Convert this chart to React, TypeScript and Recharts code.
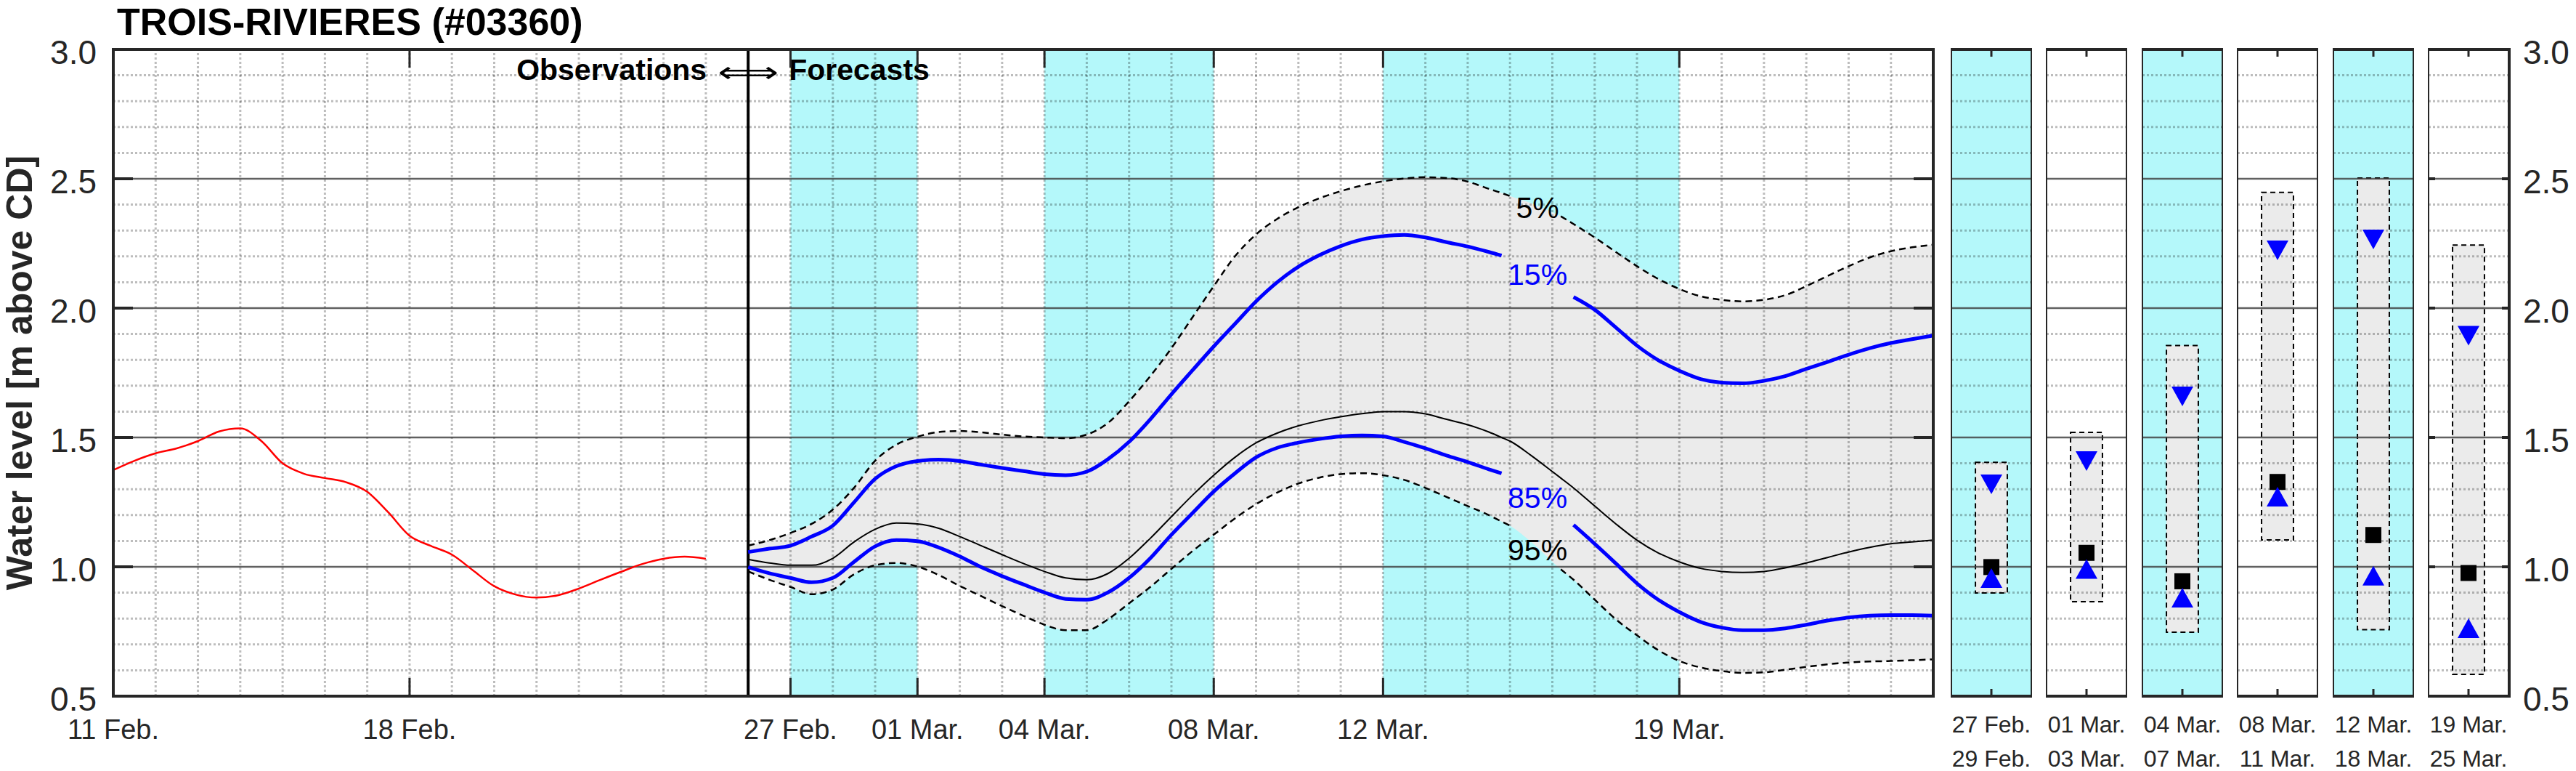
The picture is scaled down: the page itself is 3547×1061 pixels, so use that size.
import React from 'react';
import {
  ComposedChart,
  Line,
  Area,
  Scatter,
  XAxis,
  YAxis,
  ReferenceArea,
  ReferenceLine,
  ReferenceDot,
} from 'recharts';

// ---- data (day 0 = 11 Feb., levels in m above CD) ----
const obsDays = [0, 0.5, 1, 1.5, 2, 2.5, 3, 3.5, 4, 4.5, 5, 5.5, 6, 6.5, 7, 7.5, 8, 8.5, 9, 9.5, 10, 10.5, 11, 11.5, 12, 12.5, 13, 13.5, 14];
const obsLevels = [1.374, 1.41, 1.439, 1.458, 1.486, 1.523, 1.535, 1.486, 1.4, 1.36, 1.343, 1.327, 1.29, 1.21, 1.12, 1.081, 1.047, 0.986, 0.925, 0.893, 0.881, 0.89, 0.916, 0.949, 0.981, 1.011, 1.031, 1.039, 1.031];

const fcDays = [15, 15.5, 16, 16.5, 17, 17.5, 18, 18.5, 19, 19.5, 20, 20.5, 21, 21.5, 22, 22.5, 23, 23.5, 24, 24.5, 25, 25.5, 26, 26.5, 27, 27.5, 28, 28.5, 29, 29.5, 30, 30.5, 31, 31.5, 32, 32.5, 32.8, 33, 33.5, 34, 34.2, 34.5, 35, 35.5, 36, 36.5, 37, 37.5, 38, 38.5, 39, 39.5, 40, 40.5, 41, 41.5, 42, 42.5, 43];
const fc5 = [1.082, 1.103, 1.131, 1.166, 1.221, 1.305, 1.41, 1.472, 1.503, 1.521, 1.525, 1.52, 1.511, 1.504, 1.5, 1.497, 1.511, 1.556, 1.64, 1.737, 1.845, 1.965, 2.085, 2.2, 2.285, 2.345, 2.39, 2.425, 2.452, 2.474, 2.49, 2.501, 2.506, 2.503, 2.489, 2.461, 2.445, 2.433, 2.405, 2.37, 2.355, 2.325, 2.273, 2.217, 2.162, 2.113, 2.074, 2.046, 2.032, 2.026, 2.032, 2.05, 2.085, 2.124, 2.162, 2.196, 2.22, 2.235, 2.245];
const fc15 = [1.057, 1.07, 1.082, 1.117, 1.159, 1.249, 1.34, 1.389, 1.409, 1.414, 1.409, 1.395, 1.382, 1.37, 1.358, 1.354, 1.368, 1.416, 1.483, 1.57, 1.667, 1.76, 1.852, 1.939, 2.026, 2.1, 2.16, 2.205, 2.24, 2.265, 2.278, 2.283, 2.273, 2.255, 2.238, 2.217, 2.203, 2.19, 2.15, 2.1, 2.08, 2.043, 1.994, 1.925, 1.855, 1.799, 1.758, 1.726, 1.712, 1.709, 1.719, 1.737, 1.765, 1.792, 1.82, 1.845, 1.865, 1.88, 1.894];
const fc50 = [1.029, 1.015, 1.006, 1.006, 1.033, 1.096, 1.145, 1.169, 1.166, 1.149, 1.117, 1.082, 1.047, 1.013, 0.982, 0.957, 0.95, 0.974, 1.033, 1.11, 1.194, 1.277, 1.354, 1.423, 1.479, 1.517, 1.545, 1.565, 1.58, 1.592, 1.6, 1.6, 1.591, 1.57, 1.549, 1.521, 1.5, 1.486, 1.43, 1.368, 1.343, 1.305, 1.235, 1.166, 1.103, 1.054, 1.019, 0.994, 0.982, 0.978, 0.982, 0.996, 1.015, 1.036, 1.057, 1.075, 1.089, 1.096, 1.103];
const fc85 = [0.999, 0.975, 0.957, 0.94, 0.957, 1.019, 1.079, 1.103, 1.099, 1.075, 1.04, 0.999, 0.964, 0.932, 0.901, 0.876, 0.873, 0.901, 0.957, 1.033, 1.124, 1.208, 1.291, 1.361, 1.423, 1.46, 1.48, 1.494, 1.504, 1.508, 1.504, 1.483, 1.458, 1.43, 1.405, 1.377, 1.361, 1.34, 1.28, 1.22, 1.2, 1.162, 1.089, 1.013, 0.936, 0.873, 0.825, 0.787, 0.765, 0.755, 0.755, 0.762, 0.776, 0.792, 0.804, 0.811, 0.813, 0.813, 0.811];
const fc95 = [0.982, 0.95, 0.922, 0.894, 0.912, 0.971, 1.006, 1.015, 1.001, 0.968, 0.926, 0.887, 0.848, 0.811, 0.776, 0.755, 0.755, 0.797, 0.859, 0.922, 0.992, 1.061, 1.124, 1.187, 1.242, 1.287, 1.322, 1.345, 1.358, 1.362, 1.354, 1.336, 1.305, 1.27, 1.235, 1.2, 1.175, 1.159, 1.096, 1.02, 0.99, 0.95, 0.873, 0.797, 0.735, 0.678, 0.636, 0.611, 0.597, 0.59, 0.592, 0.602, 0.613, 0.623, 0.63, 0.634, 0.636, 0.639, 0.642];

const dateTickDays = [0, 7, 16, 19, 22, 26, 30, 37];
const dateTickLabels = ['11 Feb.', '18 Feb.', '27 Feb.', '01 Mar.', '04 Mar.', '08 Mar.', '12 Mar.', '19 Mar.'];
const levelTicks = [0.5, 1, 1.5, 2, 2.5, 3];
const shadedPeriods = [[16, 19], [22, 26], [30, 37]];
const forecastStart = 15;

const pctLabels = [
  { text: '5%', day: 33.65, level: 2.391, color: '#000000' },
  { text: '15%', day: 33.65, level: 2.131, color: '#0000ff' },
  { text: '85%', day: 33.65, level: 1.27, color: '#0000ff' },
  { text: '95%', day: 33.65, level: 1.068, color: '#000000' },
];

// period summaries (small panels on the right)
const panelStart = ['27 Feb.', '01 Mar.', '04 Mar.', '08 Mar.', '12 Mar.', '19 Mar.'];
const panelEnd = ['29 Feb.', '03 Mar.', '07 Mar.', '11 Mar.', '18 Mar.', '25 Mar.'];
const panelHigh = [1.404, 1.52, 1.855, 2.447, 2.503, 2.244];
const panelUpper = [1.32, 1.41, 1.66, 2.225, 2.267, 1.895];
const panelMedian = [0.999, 1.054, 0.944, 1.328, 1.123, 0.976];
const panelLower = [0.955, 0.99, 0.879, 1.27, 0.964, 0.761];
const panelLow = [0.899, 0.865, 0.747, 1.104, 0.757, 0.584];
const panelShaded = [true, false, true, false, true, false];

// ---- layout / style ----
const FONT = '"Liberation Sans", Arial, Helvetica, sans-serif';
const INK = '#262626';
const CYAN = '#b4f8fa';
const BAND = '#ebebeb';
const CHART_H = 1061;
const PLOT_TOP = 68;
const PLOT_BOTTOM = 958;
const MAIN_LEFT = 156;
const MAIN_RIGHT = 2662;
const PANEL_W = 112;
const PANEL_LEFT0 = 2686;
const PANEL_PITCH = 131.4;
const RIGHT_AXIS_W = 92;

const dashedGap = [33.2, 34.1];
const blueGap = [32.9, 34.4];
const gapped = (d: number, v: number, gap: number[]) => (d > gap[0] && d < gap[1] ? null : v);

const mainRows = [
  ...obsDays.map((d, i) => ({ x: d, obs: obsLevels[i] })),
  ...fcDays.map((d, i) => ({
    x: d,
    band: [fc95[i], fc5[i]],
    p5: gapped(d, fc5[i], dashedGap),
    p15: gapped(d, fc15[i], blueGap),
    p50: fc50[i],
    p85: gapped(d, fc85[i], blueGap),
    p95: gapped(d, fc95[i], dashedGap),
  })),
];

const dayLines = Array.from({ length: 42 }, (_, i) => i + 1);
const majorLevels = [1, 1.5, 2, 2.5];
const minorLevels = Array.from({ length: 24 }, (_, i) => Math.round((0.6 + i * 0.1) * 10) / 10).filter(
  (v) => !majorLevels.includes(v)
);

const dotted = { stroke: '#000', strokeOpacity: 0.26, strokeWidth: 3, strokeDasharray: '3 3' };
const major = { stroke: '#3a3a3a', strokeOpacity: 0.8, strokeWidth: 2.5 };

const horizontalGrid = () => [
  ...minorLevels.map((v) => <ReferenceLine key={`mn${v}`} y={v} {...dotted} zIndex={30} />),
  ...majorLevels.map((v) => <ReferenceLine key={`mj${v}`} y={v} {...major} zIndex={31} />),
];

const MainXTick = (props: any) => {
  const { x, payload } = props;
  const i = dateTickDays.indexOf(payload.value);
  const inner = x > MAIN_LEFT + 2;
  return (
    <g>
      {inner && <line x1={x} x2={x} y1={PLOT_BOTTOM} y2={PLOT_BOTTOM - 25} stroke={INK} strokeWidth={3} />}
      {inner && <line x1={x} x2={x} y1={PLOT_TOP} y2={PLOT_TOP + 25} stroke={INK} strokeWidth={3} />}
      <text x={x} y={1017} textAnchor="middle" fontSize={38} fill={INK} fontFamily={FONT}>
        {dateTickLabels[i]}
      </text>
    </g>
  );
};

const MainYTick = (props: any) => {
  const { y, payload } = props;
  const v = payload.value;
  const inner = v > 0.5 && v < 3;
  return (
    <g>
      {inner && <line x1={MAIN_LEFT} x2={MAIN_LEFT + 27} y1={y} y2={y} stroke={INK} strokeWidth={4} />}
      {inner && <line x1={MAIN_RIGHT - 27} x2={MAIN_RIGHT} y1={y} y2={y} stroke={INK} strokeWidth={4} />}
      <text x={133} y={y + 20} textAnchor="end" fontSize={46} fill={INK} fontFamily={FONT}>
        {v.toFixed(1)}
      </text>
    </g>
  );
};

const DividerLabel = (props: any) => {
  const x = props?.viewBox?.x ?? 1029;
  return (
    <g fontFamily={FONT} fill="#000">
      <text x={x - 57} y={110} textAnchor="end" fontSize={41} fontWeight="bold">Observations</text>
      <text x={x - 42} y={113} fontSize={40} textLength={84} lengthAdjust="spacingAndGlyphs" fontFamily="DejaVu Sans">⟺</text>
      <text x={x + 56} y={110} fontSize={41} fontWeight="bold">Forecasts</text>
    </g>
  );
};

const YLabel = () => (
  <text
    transform={`translate(44, ${(PLOT_TOP + PLOT_BOTTOM) / 2}) rotate(-90)`}
    textAnchor="middle"
    fontSize={50}
    fontWeight="bold"
    fill={INK}
    fontFamily={FONT}
  >
    Water level [m above CD]
  </text>
);

function MainChart() {
  return (
    <ComposedChart
      width={MAIN_RIGHT + 38}
      height={CHART_H}
      data={mainRows}
      margin={{ top: PLOT_TOP, right: 38, bottom: 0, left: 0 }}
    >
      <XAxis
        dataKey="x"
        type="number"
        domain={[0, 43]}
        ticks={dateTickDays}
        interval={0}
        height={CHART_H - PLOT_BOTTOM}
        axisLine={false}
        tickLine={false}
        tickSize={0}
        tickMargin={0}
        tick={(p: any) => <MainXTick {...p} />}
      />
      <YAxis
        type="number"
        domain={[0.5, 3]}
        ticks={levelTicks}
        interval={0}
        width={MAIN_LEFT}
        axisLine={false}
        tickLine={false}
        tickSize={0}
        tickMargin={0}
        tick={(p: any) => <MainYTick {...p} />}
        label={{ content: () => <YLabel /> }}
      />
      {shadedPeriods.map(([a, b]) => (
        <ReferenceArea key={`c${a}`} x1={a} x2={b} y1={0.5} y2={3} fill={CYAN} fillOpacity={1} stroke="none" zIndex={10} />
      ))}
      <Area
        dataKey="band"
        type="monotone"
        fill={BAND}
        fillOpacity={1}
        stroke="none"
        isAnimationActive={false}
        dot={false}
        activeDot={false}
        zIndex={20}
      />
      {dayLines.map((d) => (
        <ReferenceLine key={`d${d}`} x={d} {...dotted} zIndex={30} />
      ))}
      {horizontalGrid()}
      <ReferenceLine
        x={forecastStart}
        stroke="#000"
        strokeWidth={4}
        zIndex={35}
        label={{ content: (p: any) => <DividerLabel {...p} /> }}
      />
      <Line dataKey="obs" type="monotone" stroke="#ff0000" strokeWidth={2.5} dot={false} activeDot={false} isAnimationActive={false} zIndex={40} />
      <Line dataKey="p5" type="monotone" stroke="#000" strokeWidth={2.5} strokeDasharray="9 6" dot={false} activeDot={false} isAnimationActive={false} zIndex={40} />
      <Line dataKey="p95" type="monotone" stroke="#000" strokeWidth={2.5} strokeDasharray="9 6" dot={false} activeDot={false} isAnimationActive={false} zIndex={40} />
      <Line dataKey="p50" type="monotone" stroke="#000" strokeWidth={2} dot={false} activeDot={false} isAnimationActive={false} zIndex={40} />
      <Line dataKey="p15" type="monotone" stroke="#0000ff" strokeWidth={5} dot={false} activeDot={false} isAnimationActive={false} zIndex={41} />
      <Line dataKey="p85" type="monotone" stroke="#0000ff" strokeWidth={5} dot={false} activeDot={false} isAnimationActive={false} zIndex={41} />
      {pctLabels.map((l) => (
        <ReferenceDot
          key={l.text}
          x={l.day}
          y={l.level}
          r={0}
          zIndex={45}
          shape={(p: any) => (
            <text x={p.cx} y={p.cy + 15} textAnchor="middle" fontSize={41} fill={l.color} fontFamily={FONT}>
              {l.text}
            </text>
          )}
        />
      ))}
      <ReferenceArea x1={0} x2={43} y1={0.5} y2={3} fill="none" stroke={INK} strokeWidth={4} zIndex={50} />
    </ComposedChart>
  );
}

const DownTriangle = (p: any) => (
  <polygon points={`${p.cx - 15},${p.cy - 13} ${p.cx + 15},${p.cy - 13} ${p.cx},${p.cy + 14}`} fill="#0000ff" />
);
const UpTriangle = (p: any) => (
  <polygon points={`${p.cx - 15},${p.cy + 13} ${p.cx + 15},${p.cy + 13} ${p.cx},${p.cy - 14}`} fill="#0000ff" />
);
const Square = (p: any) => <rect x={p.cx - 11} y={p.cy - 11} width={22} height={22} fill="#000" />;

function Panel({ i }: { i: number }) {
  const last = i === panelStart.length - 1;
  const left = Math.round(PANEL_LEFT0 + i * PANEL_PITCH);
  const pt = (v: number) => [{ x: 0.5, y: v }];

  const PanelXTick = (p: any) => (
    <g>
      <line x1={p.x} x2={p.x} y1={PLOT_BOTTOM} y2={PLOT_BOTTOM - 10} stroke={INK} strokeWidth={3} />
      <line x1={p.x} x2={p.x} y1={PLOT_TOP} y2={PLOT_TOP + 10} stroke={INK} strokeWidth={3} />
      <text x={p.x} y={1008} textAnchor="middle" fontSize={32} fill={INK} fontFamily={FONT}>{panelStart[i]}</text>
      <text x={p.x} y={1055} textAnchor="middle" fontSize={32} fill={INK} fontFamily={FONT}>{panelEnd[i]}</text>
    </g>
  );

  const PanelYTick = (p: any) => {
    const v = p.payload.value;
    const inner = v > 0.5 && v < 3;
    return (
      <g>
        {inner && <line x1={0} x2={10} y1={p.y} y2={p.y} stroke={INK} strokeWidth={4} />}
        {inner && <line x1={PANEL_W - 10} x2={PANEL_W} y1={p.y} y2={p.y} stroke={INK} strokeWidth={4} />}
        {last && (
          <text x={PANEL_W + 19} y={p.y + 20} fontSize={46} fill={INK} fontFamily={FONT}>
            {v.toFixed(1)}
          </text>
        )}
      </g>
    );
  };

  return (
    <div style={{ position: 'absolute', left, top: 0 }}>
      <ComposedChart
        width={PANEL_W + (last ? RIGHT_AXIS_W : 0)}
        height={CHART_H}
        data={[{ x: 0.5 }]}
        margin={{ top: PLOT_TOP, right: 0, bottom: 0, left: 0 }}
      >
        <XAxis
          dataKey="x"
          type="number"
          domain={[0, 1]}
          ticks={[0.5]}
          interval={0}
          height={CHART_H - PLOT_BOTTOM}
          axisLine={false}
          tickLine={false}
          tickSize={0}
          tickMargin={0}
          tick={(p: any) => <PanelXTick {...p} />}
        />
        <YAxis
          orientation="right"
          type="number"
          domain={[0.5, 3]}
          ticks={levelTicks}
          interval={0}
          width={last ? RIGHT_AXIS_W : 0}
          axisLine={false}
          tickLine={false}
          tickSize={0}
          tickMargin={0}
          tick={(p: any) => <PanelYTick {...p} />}
        />
        {panelShaded[i] && (
          <ReferenceArea x1={0} x2={1} y1={0.5} y2={3} fill={CYAN} fillOpacity={1} stroke="none" zIndex={10} />
        )}
        <ReferenceArea
          x1={0.304}
          x2={0.696}
          y1={panelLow[i]}
          y2={panelHigh[i]}
          fill={BAND}
          fillOpacity={1}
          stroke="#000"
          strokeWidth={2}
          strokeDasharray="7 5"
          zIndex={20}
        />
        {horizontalGrid()}
        <Scatter data={pt(panelUpper[i])} dataKey="y" shape={DownTriangle} isAnimationActive={false} zIndex={40} />
        <Scatter data={pt(panelMedian[i])} dataKey="y" shape={Square} isAnimationActive={false} zIndex={40} />
        <Scatter data={pt(panelLower[i])} dataKey="y" shape={UpTriangle} isAnimationActive={false} zIndex={40} />
        <ReferenceArea x1={0} x2={1} y1={0.5} y2={3} fill="none" stroke={INK} strokeWidth={4} zIndex={50} />
      </ComposedChart>
    </div>
  );
}

export default function App() {
  return (
    <div style={{ position: 'absolute', left: 0, top: 0, width: 3547, height: CHART_H, background: '#fff', overflow: 'hidden' }}>
      <div style={{ position: 'absolute', left: 0, top: 0 }}>
        <MainChart />
      </div>
      {panelStart.map((_, i) => (
        <Panel key={i} i={i} />
      ))}
      <svg width={1000} height={62} style={{ position: 'absolute', left: 0, top: 0 }}>
        <text x={161} y={48} fontSize={52} fontWeight="bold" fill="#000" fontFamily={FONT}>
          TROIS-RIVIERES (#03360)
        </text>
      </svg>
    </div>
  );
}
